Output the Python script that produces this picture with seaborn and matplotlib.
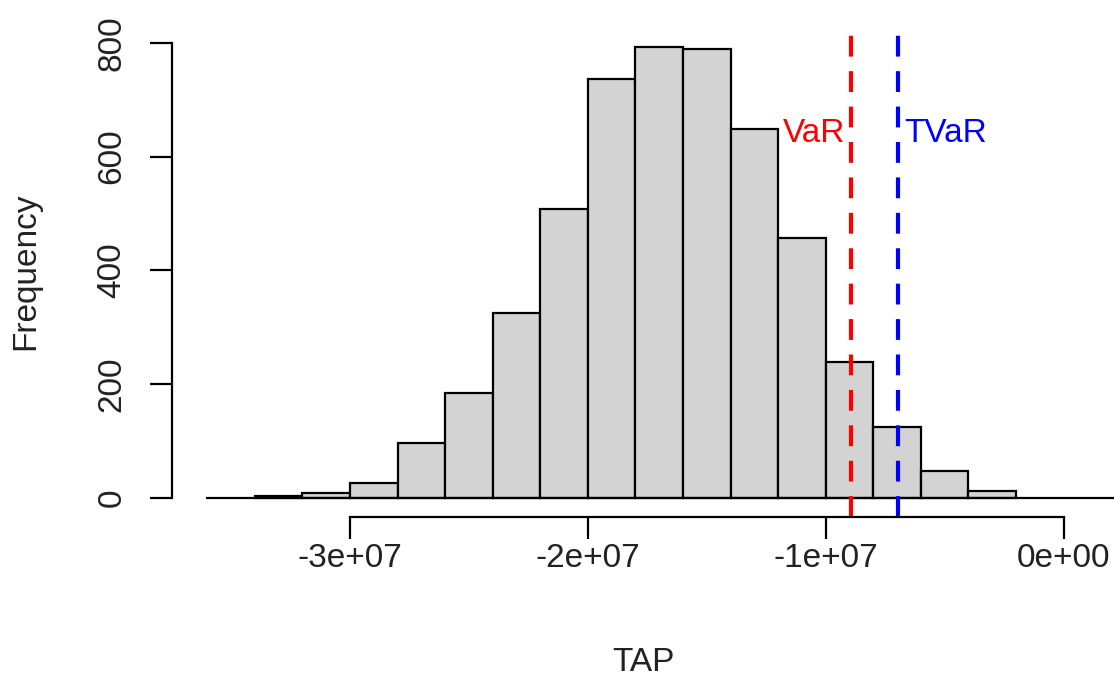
import numpy as np
import pandas as pd
import matplotlib
matplotlib.use("Agg")
import matplotlib.pyplot as plt
import seaborn as sns

# ---- data ----
bin_edges = [-3.4e7 + 2e6 * i for i in range(17)]
counts = [3, 8, 26, 96, 184, 325, 508, 737, 793, 789, 648, 457, 238, 125, 46, 11]
var_value = -8.92e6
tvar_value = -6.98e6
x_ticks = [-3e7, -2e7, -1e7, 0]
x_tick_labels = ["-3e+07", "-2e+07", "-1e+07", "0e+00"]
y_ticks = [0, 200, 400, 600, 800]
x_label = "TAP"
y_label = "Frequency"

centers = [(bin_edges[i] + bin_edges[i + 1]) / 2 for i in range(len(counts))]
df = pd.DataFrame({"TAP": centers, "n": counts})

sns.set_style("ticks")
plt.rcParams["font.family"] = ["Liberation Sans", "DejaVu Sans"]

fig = plt.figure(figsize=(11.14, 6.78), dpi=100)
ax = fig.add_axes([172 / 1114, 161 / 678, (1114 - 172) / 1114, (517 - 26) / 678])

sns.histplot(data=df, x="TAP", weights="n", bins=bin_edges, ax=ax,
             color="#D3D3D3", alpha=1, edgecolor="black", linewidth=1.6)

ax.set_xlim(-3.7485e7, 2.123e6)
ax.set_ylim(-34.3, 830)

# baseline
ax.hlines(0, -3.605e7, 3e6, color="black", lw=1.6, clip_on=True)

# VaR / TVaR lines
ax.axvline(var_value, color="red", lw=3, ls=(0, (5, 3.5)))
ax.axvline(tvar_value, color="blue", lw=3, ls=(0, (5, 3.5)))
ax.text(var_value - 0.25e6, 640, "VaR", color="red", fontsize=24,
        ha="right", va="center")
ax.text(tvar_value + 0.3e6, 640, "TVaR", color="blue", fontsize=24,
        ha="left", va="center")

# R-style axes
for s in ["top", "right"]:
    ax.spines[s].set_visible(False)
ax.spines["left"].set_bounds(0, 800)
ax.spines["bottom"].set_bounds(-3e7, 0)
for s in ["left", "bottom"]:
    ax.spines[s].set_linewidth(1.6)
    ax.spines[s].set_color("black")

ax.set_xticks(x_ticks)
ax.set_xticklabels(x_tick_labels)
ax.set_yticks(y_ticks)
ax.set_yticklabels([str(v) for v in y_ticks], rotation=90, va="center")
ax.tick_params(axis="both", direction="out", length=16, width=1.6,
               color="black", labelsize=24, labelcolor="#222222",
               bottom=True, left=True, top=False, right=False)
ax.tick_params(axis="x", pad=3)
ax.tick_params(axis="y", pad=16)
ax.grid(False)

ax.set_xlabel(x_label, fontsize=24, color="#222222", labelpad=52)
ax.set_ylabel(y_label, fontsize=24, color="#222222", labelpad=40)

fig.savefig("out.png", dpi=100)
